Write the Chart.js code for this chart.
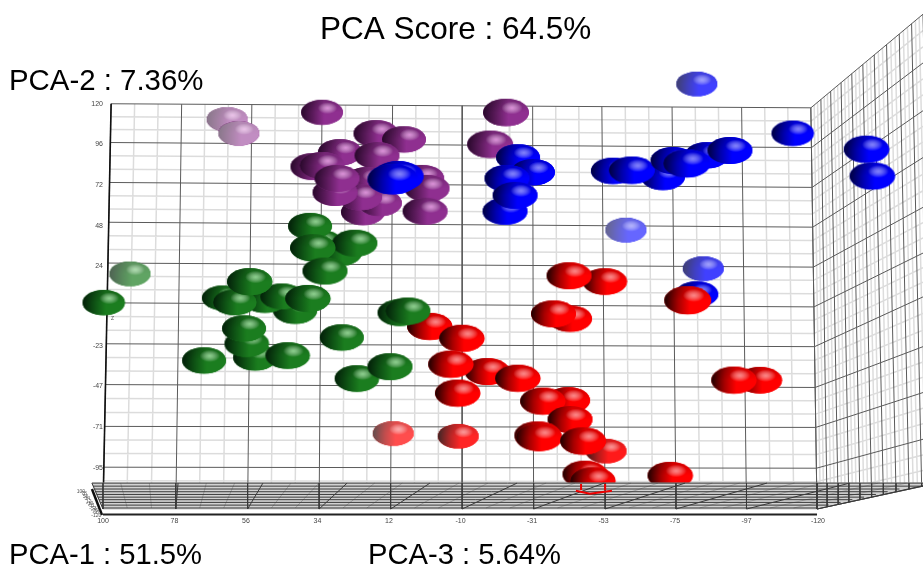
<!DOCTYPE html>
<html>
<head>
<meta charset="utf-8">
<style>html,body{margin:0;padding:0;background:#fff}canvas{display:block}</style>
<script src="https://cdn.jsdelivr.net/npm/chart.js@4/dist/chart.umd.min.js"></script>
</head>
<body>
<canvas id="c" width="923" height="564"></canvas>
<script>
// Axis ticks (PCA-1 across, PCA-2 up)
const xTicks=[100,78,56,34,12,-10,-32,-54,-76,-98,-120];
const xTickLabels=['100','78','56','34','12','-10','-31','-53','-75','-97','-120'];
const yTicks=[120,96,72,48,24,0,-23,-47,-71,-95];
const yTickLabels=['120','96','72','48','24','','-23','-47','-71','-95'];
const zTickLabels=['100','78','56','34','12','-10','-31','-53','-75','-97','-120'];

// Scores: x = PCA-1, y = PCA-2, z = PCA-3 (depth)
const purpleX=[61.8,58.2,32.6,-24,-19.1,27.1,16,7.4,15.7,35.4,32.6,18.8,1.8,0.3,20,14.8,20.9,28.6,28,0.9];
const purpleY=[110.6,102.4,114.7,114.7,95.9,91.2,102.4,98.8,89.4,82.9,83.5,74.7,75.9,70,55.9,61.2,64.7,67.6,75.9,56.5];
const purpleZ=[-45,-45,10,50,50,30,40,30,40,40,40,30,30,40,30,30,30,40,40,40];

const blueX=[-82.7,-60.9,-84.7,-82.7,-27.7,-32.3,-24.3,-23.7,-26.8,9.2,10.8,-72.3,-56.9,-62.7,-85.8,-92.9,-75.4,-79.6,-112.3,-135,-136.8];
const blueY=[131.6,45.3,22.5,7.5,88.2,79.4,75.9,56.5,65.9,77.1,75.3,76.6,80.2,80.6,89.4,92.4,86.5,84.5,102.4,92.9,77.1];
const blueZ=[-25,-40,-25,20,30,30,40,40,40,100,100,30,30,50,30,40,40,60,15,45,45];

const redX=[10.7,-9.3,-54.8,-54.5,-43.4,-43.7,-38.6,-79.9,-102.2,-94.2,-0.6,-10.5,-18.2,-7.1,-27.7,-9.2,-43.1,-35.4,-43.7,-33.8,-34.2,-47.7,-48.3,-50.8,-74.6];
const redY=[-74.9,-76.5,-85.3,14.9,18.4,-7.1,-4.1,3.7,-43.4,-43.5,-11.8,-18.8,-38.2,-34.1,-42.4,-51.2,-55.3,-55.9,-66.5,-75.9,-77.1,-79.4,-98.8,-103,-99.8];
const redZ=[-30,-15,-10,35,40,30,40,60,35,45,45,45,40,45,45,45,30,45,40,55,55,50,40,45,45];

const greenX=[91.7,99.7,33.2,36.3,27.1,22.5,35.4,31.7,63.1,40.9,50.2,59.4,44.9,54.8,36.9,53.2,55.7,56.6,43.1,68.9,26.5,8.6,6.2,21.8,11.7];
const greenY=[19.4,2.4,37.6,47.6,31.8,37.6,34.7,21.2,5.3,-2.4,4.1,2.4,5.9,14.7,4.7,-30,-21.8,-12.9,-28.8,-31.8,-18.2,-3.5,-2.4,-42.4,-35.3];
const greenZ=[-30,15,30,30,30,40,45,40,5,30,30,25,25,45,45,30,35,30,35,30,30,35,40,35,40];

// Box geometry, in the same axis units
const backTopX=[97.5,75.8,54.2,32.6,10.9,-10.6,-32.2,-53.5,-75.1,-96.5,-117.8];
const backBottomX=[100,77.6,55.5,33.5,11.5,-10.5,-32.5,-54.5,-76.3,-98,-119.7];
const backLeftY=[120,97.1,73.5,50,25.9,2.4,-21.8,-45.9,-70.6,-94.7];
const backRightY=[117.6,94.1,70.6,47.1,23.5,0,-23.5,-47.6,-71.2,-95.3];
const sideTopX=[-117.8,-120.9,-123.9,-127.1,-130.4,-133.8,-137.3,-141.1,-145,-148.8,-152.3];
const sideBottomX=[-119.7,-122.8,-126.2,-129.5,-132.9,-136.5,-140.1,-144,-148,-151.9,-155.5];
const sideStartY=[117.6,94.1,70.6,47.1,23.5,0,-23.5,-47.6,-71.2,-95.3,-119.4];
const sideEndY=[172.9,144.1,115.9,88.2,58.8,31.8,5.9,-23.5,-50.6,-78.2,-105.9];
const floorY=[-104.1,-105.9,-107.6,-109.2,-110.8,-112.4,-113.9,-115.5,-117.1,-118.8];
const floorTopX=[103.4,76.9,50.8,24.9,-0.6,-27.4,-54.2,-79.1,-104.3,-129.8,-156];

const lerp=(a,b,t)=>a+(b-a)*t;
const Y_TOP=120,Y_BOT=-119.4;
const backLeftAt=y=>lerp(97.5,100,(Y_TOP-y)/(Y_TOP-Y_BOT));
const backRightAt=y=>lerp(-117.8,-119.7,(Y_TOP-y)/(Y_TOP-Y_BOT));
const sideTopAt=x=>lerp(117.6,172.9,(-117.8-x)/(-117.8+152.3));
const sideBotAt=x=>lerp(-119.4,-105.9,(-119.7-x)/(-119.7+152.3));

function add(a,x1,y1,x2,y2){a.push({x:x1,y:y1},{x:x2,y:y2},{x:NaN,y:NaN});}

const minor=[],major=[],floorLines=[],floorFaint=[];
// back wall
for(let i=0;i<backLeftY.length;i++){
  const yl=backLeftY[i],yr=backRightY[i];
  add(major,backLeftAt(yl),yl,backRightAt(yr),yr);
  const nl=i+1<backLeftY.length?backLeftY[i+1]:-118.7, nr=i+1<backRightY.length?backRightY[i+1]:-119.4;
  [1/3,2/3].forEach(t=>{
    if(i===backLeftY.length-1&&t>0.5)return;
    const a=lerp(yl,nl,t),b=lerp(yr,nr,t);
    add(minor,backLeftAt(a),a,backRightAt(b),b);
  });
}
for(let i=0;i<backTopX.length;i++){
  const topY=lerp(120,117.6,i/10);
  add(major,backTopX[i],topY,backBottomX[i],Y_BOT);
  if(i<backTopX.length-1)[1/3,2/3].forEach(t=>{
    const ty=lerp(120,117.6,(i+t)/10);
    add(minor,lerp(backTopX[i],backTopX[i+1],t),ty,lerp(backBottomX[i],backBottomX[i+1],t),-104);
    add(floorFaint,lerp(floorTopX[i],floorTopX[i+1],t),-104.1,lerp(backBottomX[i],backBottomX[i+1],t),-118.8);
  });
}
// side wall
for(let i=0;i<sideStartY.length;i++){
  const x0=lerp(-117.8,-119.7,(Y_TOP-sideStartY[i])/(Y_TOP-Y_BOT));
  add(major,x0,sideStartY[i],-152.31,sideEndY[i]);
  if(i<sideStartY.length-1)[1/3,2/3].forEach(t=>{
    const s=lerp(sideStartY[i],sideStartY[i+1],t),e=lerp(sideEndY[i],sideEndY[i+1],t);
    add(minor,lerp(-117.8,-119.7,(Y_TOP-s)/(Y_TOP-Y_BOT)),s,-152.31,e);
  });
}
for(let i=0;i<sideTopX.length;i++){
  add(major,sideTopX[i],sideTopAt(sideTopX[i]),sideBottomX[i],sideBotAt(sideBottomX[i]));
  if(i<sideTopX.length-1)[1/3,2/3].forEach(t=>{
    const a=lerp(sideTopX[i],sideTopX[i+1],t),b=lerp(sideBottomX[i],sideBottomX[i+1],t);
    add(minor,a,sideTopAt(a),b,sideBotAt(b));
  });
}
// floor
floorY.forEach((y,k)=>{
  const t=k/(floorY.length-1);
  add(floorLines,lerp(103.4,100,t),y,t<0.12?-152.31:lerp(-152.31,-119.7,t),y);
});
floorTopX.forEach((x,i)=>add(floorLines,x,-104.1,backBottomX[i],-119.4));
for(let i=0;i<backBottomX.length;i++) add(floorLines,backBottomX[i],-104.1,backBottomX[i],Y_BOT);
add(floorLines,-119.7,Y_BOT,-152.31,-105.9);
sideBottomX.forEach(x=>{add(floorLines,x,-104.1,x,sideBotAt(x));});

const floorShape=[{x:103.4,y:-104.1},{x:-152.31,y:-104.1},{x:-152.31,y:-105.9},{x:-119.7,y:Y_BOT},{x:100,y:Y_BOT},{x:103.4,y:-104.1}];
const axisLine=[{x:100,y:-122.6},{x:-119.7,y:-122.6}];
const zAxisLine=[{x:103.4,y:-107.6},{x:100.3,y:-122.9}];
const leftEdge=[{x:97.5,y:120},{x:100,y:Y_BOT}];
const redTraceX=[-47.1,-47.1,NaN,-54.5,-54.5,NaN,-45.5,-49.8,-56.6];
const redTraceY=[-104.7,-108.2,NaN,-104.7,-108.2,NaN,-108.6,-110.4,-108.6];

// sphere sprites
const cache=new Map();
function sprite(base,dark,mid,hi,z){
  const key=base+z;
  if(cache.has(key))return cache.get(key);
  const w=41+Math.max(z,0)/10,h=w*0.6;
  const c=document.createElement('canvas');c.width=Math.ceil(w)+2;c.height=Math.ceil(h)+2;
  const g=c.getContext('2d');
  g.translate(1,1);
  g.beginPath();g.ellipse(w/2,h/2,w/2,h/2,0,0,Math.PI*2);g.fillStyle=base;g.fill();
  g.save();g.clip();
  let lg=g.createLinearGradient(0,0,w,0);
  lg.addColorStop(0.03,dark);lg.addColorStop(0.3,mid);lg.addColorStop(0.55,base);lg.addColorStop(1,base);
  g.fillStyle=lg;g.fillRect(0,0,w,h);
  lg=g.createLinearGradient(0,0,0,h);
  lg.addColorStop(0,'rgba(0,0,0,0.2)');lg.addColorStop(0.5,'rgba(0,0,0,0)');
  g.fillStyle=lg;g.fillRect(0,0,w,h);
  g.save();
  g.globalAlpha=0.8;
  g.translate(w*0.63,h*0.33);g.scale(1,0.6);
  const rg=g.createRadialGradient(0,0,0,0,0,w*0.23);
  rg.addColorStop(0,hi);rg.addColorStop(1,'rgba(255,255,255,0)');
  g.fillStyle=rg;g.fillRect(-w,-w,2*w,2*w);
  g.restore();
  const fade=Math.min(1,Math.max(0,-z/100));
  if(fade>0){g.globalCompositeOperation='source-atop';g.fillStyle='rgba(255,255,255,'+fade+')';g.fillRect(0,0,w,h);}
  g.restore();
  cache.set(key,c);
  return c;
}
function spheres(label,xs,ys,zs,base,dark,mid,hi,order){
  return {label,order,data:xs.map((x,i)=>({x,y:ys[i]})),showLine:false,clip:false,pointRadius:20,borderWidth:0,
    pointBorderWidth:0,backgroundColor:base,
    pointStyle:ctx=>sprite(base,dark,mid,hi,zs[ctx.dataIndex]||0)};
}
function lines(label,data,color,width,order,extra){
  return Object.assign({label,order,data,showLine:true,clip:false,pointRadius:0,borderColor:color,borderWidth:width,spanGaps:false,fill:false,tension:0},extra||{});
}

const titles=[
  {text:'PCA Score : 64.5%',x:320,y:39,size:31.5},
  {text:'PCA-2 : 7.36%',x:9,y:90,size:29.4},
  {text:'PCA-1 : 51.5%',x:9,y:564,size:29.2},
  {text:'PCA-3 : 5.64%',x:368,y:564,size:29.2}
];
const textPlugin={id:'txt',afterDraw(chart){
  const ctx=chart.ctx;ctx.save();
  ctx.fillStyle='#000';ctx.textAlign='left';ctx.textBaseline='alphabetic';
  titles.forEach(t=>{ctx.font=t.size+'px "Liberation Sans"';ctx.fillText(t.text,t.x,t.y);});
  const sx=chart.scales.x,sy=chart.scales.y;
  ctx.font='5px "Liberation Sans"';ctx.fillStyle='#555';ctx.textAlign='right';
  zTickLabels.forEach((l,i)=>{
    const t=i/10;
    ctx.fillText(l,sx.getPixelForValue(lerp(105.5,100.5,t)),sy.getPixelForValue(lerp(-110,-124,t)));
  });
  ctx.textAlign='left';
  ctx.fillText('Z',sx.getPixelForValue(97.5),sy.getPixelForValue(-8));
  ctx.restore();
}};

new Chart(document.getElementById('c'),{
  type:'scatter',
  plugins:[textPlugin],
  data:{datasets:[
    lines('floor lines',floorLines,'#3a3a3a',1,1),
    lines('red trace',redTraceX.map((x,i)=>({x,y:redTraceY[i]})),'#ee0000',2,0),
    lines('floor faint',floorFaint,'rgba(120,120,120,0.5)',1,3),
    lines('floor',floorShape,'#c8c8c8',1,4,{fill:'shape',backgroundColor:'#d2d2d2'}),
    lines('x axis',axisLine,'#222',2,4.5),
    lines('z axis',zAxisLine,'#111',2.5,4.5),
    spheres('Green',greenX,greenY,greenZ,'#1b7d1f','#04240a','#0f5515','#a8e8a8',10),
    spheres('Red',redX,redY,redZ,'#ff0000','#2a0000','#a80000','#ffa8a8',11),
    spheres('Blue',blueX,blueY,blueZ,'#0000ff','#00004a','#0000b0','#a0a0ff',12),
    spheres('Purple',purpleX,purpleY,purpleZ,'#8f2f90','#2e0a30','#5f1c5f','#f2a8ee',13),
    lines('left edge',leftEdge,'#111',1.6,20),
    lines('grid major',major,'#5a5a5a',1,21),
    lines('grid minor',minor,'#dcdcdc',1.5,22)
  ]},
  options:{
    responsive:false,animation:false,devicePixelRatio:1,
    layout:{padding:0,autoPadding:false},
    events:[],
    plugins:{legend:{display:false},tooltip:{enabled:false},title:{display:false}},
    scales:{
      x:{type:'linear',reverse:true,min:-152.31,max:131.69,position:{y:-122.6},
        grid:{display:false,drawTicks:false},border:{display:false},
        afterBuildTicks:s=>{s.ticks=xTicks.map(v=>({value:v}));},
        ticks:{callback:(v,i)=>xTickLabels[i],autoSkip:false,maxRotation:0,padding:2,color:'#444',font:{size:7,family:'Liberation Sans'}}},
      y:{type:'linear',min:-151.18,max:180.59,position:{x:100},
        grid:{display:false,drawTicks:false},border:{display:false},
        afterBuildTicks:s=>{s.ticks=yTicks.map(v=>({value:v}));},
        ticks:{callback:(v,i)=>yTickLabels[i],autoSkip:false,padding:-3,color:'#444',font:{size:7,family:'Liberation Sans'}}}
    }
  }
});
</script>
</body>
</html>
